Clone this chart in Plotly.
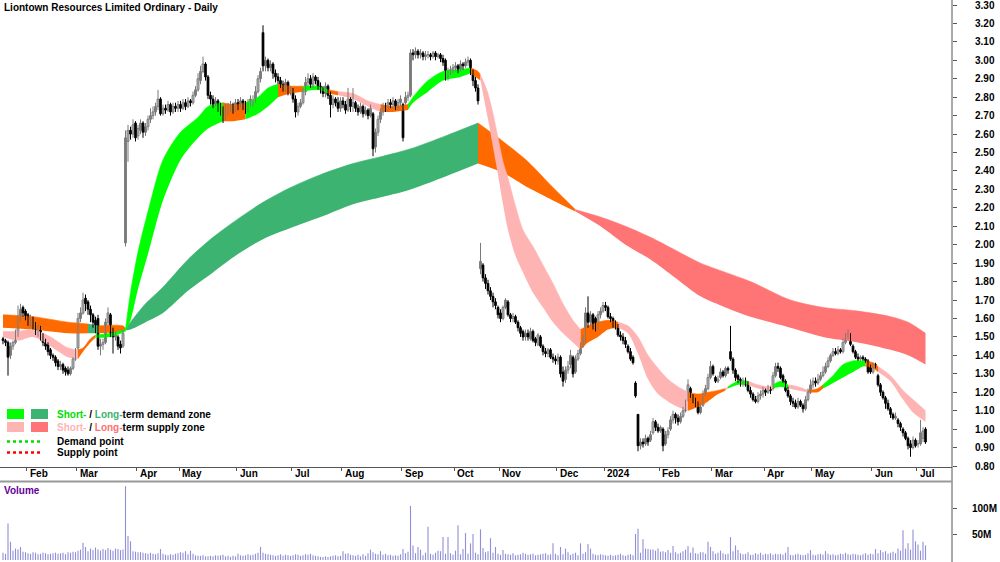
import numpy as np
import plotly.graph_objects as go

title_text = "Liontown Resources Limited Ordinary - Daily"

# ---- x axis: trading days per month (first entry = partial Jan 2023) ----
month_labels = ["Feb", "Mar", "Apr", "May", "Jun", "Jul", "Aug", "Sep", "Oct",
                "Nov", "Dec", "2024", "Feb", "Mar", "Apr", "May", "Jun", "Jul"]
month_bar_counts = [10, 20, 24, 17, 23, 22, 20, 24, 21, 18, 23, 19, 22, 21, 21, 19, 24, 18, 4]

# ---- daily OHLC (cents) ----
open_c = [
149,148,147,140,145,147,152,160,166,164, 162,157,160,157,152,154,151,148,146,143,
140,139,137,134,135,133,132,130,133,138, 144,160,163,171,169,165,162,159,160,145,
146,147,158,162,153,150,150,146,145,201, 256,262,260,266,259,262,266,261,264,268,
270,272,275,279,271,274,273,276,272,275, 274,276,274,277,275,278,277,281,284,289,
294,298,291,281,279,276,278,275,273,270, 272,274,276,273,277,275,278,276,274,277,
277,278,283,290,315,297,300,296,298,293, 291,289,287,285,288,283,284,279,272,275,
277,283,288,290,287,291,289,286,284,282, 286,281,276,279,277,274,278,276,273,279,
275,277,274,272,275,271,273,270,271,253, 261,268,272,275,274,277,276,278,275,277,
276,277,280,281,304,303,305,303,304,302, 303,303,302,304,302,303,301,300,291,294,
295,296,297,295,298,297,299,300,294,289, 285,187,189,182,179,175,172,169,166,163,
160,166,169,162,160,161,158,155,153,150, 152,149,153,149,146,150,145,142,141,143,
139,138,137,139,131,127,132,135,139,131, 138,141,145,148,163,158,162,160,155,162,
164,167,166,161,160,157,155,151,150,148, 145,142,139,125,108,91,93,92,95,94,
98,104,101,99,100,92,97,100,105,108, 106,104,107,110,117,122,118,116,114,109,
113,119,122,128,134,128,126,128,131,129, 133,142,138,132,129,127,125,126,125,121,
119,116,115,118,119,121,120,122,122,129, 134,133,129,126,121,118,115,114,112,115,
113,111,116,120,124,126,125,127,129,131, 134,137,140,142,141,143,142,147,150,151,
145,142,139,138,139,138,137,134,131,135, 129,124,120,117,114,111,108,106,105,103,
100,98,95,92,90,94,92,92,95,100]
high_c = [
150,149,148,147,148,154,167,168,167,165, 163,162,161,158,157,156,152,149,147,144,
141,140,138,137,136,134,134,134,139,144, 163,166,174,173,170,167,163,161,162,149,
149,160,166,163,155,153,151,148,154,262, 265,264,268,267,265,268,267,266,270,274,
275,277,284,280,276,276,278,277,277,277, 278,278,279,279,280,279,283,286,293,297,
302,299,292,283,281,280,279,277,275,276, 277,278,277,279,279,280,279,278,279,281,
281,286,292,296,319,302,301,300,299,295, 293,291,289,290,289,286,285,281,277,279,
285,291,293,292,293,292,291,288,286,288, 287,283,281,280,280,280,280,278,285,280,
285,278,276,277,276,275,274,276,272,263, 270,274,277,277,279,279,280,279,279,281,
277,283,283,306,306,307,306,306,305,305, 305,304,305,305,304,304,303,301,296,297,
298,299,298,300,299,301,302,301,295,291, 287,201,190,184,181,177,174,171,167,165,
167,171,170,163,163,162,159,156,154,154, 154,155,154,150,152,151,146,144,144,144,
141,140,141,140,134,134,137,143,140,140, 143,147,151,166,172,164,163,161,164,166,
169,169,167,163,161,159,157,153,152,150, 146,144,140,126,108,95,95,97,96,99,
106,105,103,102,101,99,101,107,110,109, 108,109,112,116,127,123,119,117,115,114,
121,124,130,137,135,129,129,133,132,134, 134,156,139,133,130,128,128,128,126,123,
120,118,120,121,123,122,124,123,131,136, 136,134,130,127,123,119,117,116,117,116,
114,118,122,127,128,128,130,131,134,136, 139,141,144,144,145,144,149,152,154,152,
146,143,141,140,140,139,138,135,136,136, 130,125,121,118,116,112,109,109,106,104,
101,99,96,94,96,95,94,105,101,101]
low_c = [
146,145,129,138,143,146,150,158,161,159, 156,155,154,151,150,148,145,143,140,138,
137,134,132,132,130,129,129,129,132,137, 143,158,162,164,162,158,155,152,143,140,
143,146,156,150,141,148,143,141,144,199, 245,257,258,256,257,260,258,259,262,266,
268,270,273,270,270,271,272,270,271,272, 272,272,273,273,274,275,276,280,283,287,
293,289,279,276,274,275,272,270,266,268, 270,272,271,272,273,274,273,271,272,275,
275,277,282,288,294,294,294,294,290,288, 287,285,283,283,281,281,277,269,270,274,
276,281,286,285,285,287,284,282,280,280, 279,269,274,275,272,272,274,271,272,272,
272,272,270,271,269,270,268,269,248,250, 259,266,270,272,272,274,274,273,273,275,
256,276,278,280,300,301,301,301,300,300, 301,300,301,300,301,299,297,289,289,292,
293,294,293,294,295,296,297,292,286,283, 276,184,180,176,173,170,166,165,160,158,
159,165,161,158,158,157,153,150,148,148, 148,148,147,145,145,144,140,139,139,138,
136,135,135,128,123,125,130,133,128,130, 137,140,144,147,155,156,154,153,154,160,
163,164,160,158,155,154,150,148,146,144, 141,137,135,117,88,89,90,91,91,93,
97,99,98,98,88,91,95,99,103,103, 102,103,106,109,115,117,114,112,108,108,
112,118,121,127,129,125,125,127,128,128, 130,137,130,126,125,123,123,123,120,117,
115,114,114,116,117,118,119,119,121,128, 131,127,125,120,117,113,112,111,111,112,
109,110,115,119,122,123,124,126,128,130, 133,136,139,140,140,141,141,146,149,145,
141,138,137,137,137,136,130,130,130,133, 123,118,116,111,110,106,105,105,101,99,
96,94,89,85,89,90,90,91,93,92]
close_c = [
148,147,139,145,147,152,160,165,163,161, 158,160,156,153,155,150,147,145,142,140,
139,136,134,135,132,131,130,133,138,142, 160,163,170,168,165,162,158,156,145,146,
147,158,163,152,150,151,145,144,152,258, 262,260,265,258,263,266,261,264,268,270,
272,275,279,271,274,273,276,272,275,274, 276,274,277,275,278,277,281,284,290,294,
298,291,281,279,276,278,275,273,270,272, 274,276,273,277,275,278,276,274,277,279,
278,283,290,294,297,300,296,298,293,291, 289,287,285,288,283,284,279,272,275,277,
283,288,290,287,291,289,286,284,282,286, 281,276,279,277,274,278,276,273,279,275,
277,274,272,275,271,273,270,274,252,261, 268,272,275,274,277,276,278,275,277,279,
258,280,281,304,303,305,303,304,302,303, 303,302,304,302,303,301,299,291,294,295,
296,297,295,298,297,299,300,294,289,285, 278,191,182,179,175,172,169,167,162,160,
166,170,162,160,161,158,155,152,150,152, 150,153,148,147,151,145,142,141,143,139,
138,137,139,130,126,132,134,140,130,138, 141,145,149,163,158,162,156,155,162,164,
167,166,161,160,157,155,151,150,148,146, 142,138,136,118,91,93,92,95,93,97,
104,101,99,101,91,97,99,105,108,106, 104,107,110,114,124,118,116,113,109,112,
119,122,128,134,130,126,127,131,129,133, 132,138,132,128,127,125,126,124,121,119,
116,115,118,119,121,120,122,121,129,134, 133,128,126,121,118,115,114,112,115,113,
111,116,120,124,126,125,127,129,131,134, 137,140,142,141,143,142,147,150,152,146,
142,139,138,139,138,137,131,131,135,134, 124,120,117,114,111,108,106,107,103,101,
98,95,91,90,94,91,92,98,99,93]

# ---- daily volume (millions) ----
volume_m = [
14,12,70,35,18,22,20,25,16,15, 13,12,15,14,11,12,14,13,11,12,
13,14,12,13,14,11,15,14,16,15, 18,20,33,25,17,22,19,24,20,18,
21,19,23,20,18,22,21,19,20,142, 46,36,17,16,15,15,14,13,12,14,
12,11,13,21,12,10,9,11,10,12, 13,15,14,17,11,18,12,9,8,8,
9,7,7,8,7,9,8,9,10,7, 8,6,8,7,12,9,8,9,11,9,
10,12,14,25,14,12,11,10,9,8, 9,11,8,10,9,8,9,11,10,8,
9,11,10,12,9,8,7,6,6,7, 6,7,8,9,7,8,17,12,13,10,
9,8,10,7,11,8,13,20,15,12, 11,17,10,12,9,10,8,9,8,11,
21,13,16,104,28,13,25,20,9,14, 64,12,10,14,18,17,44,12,44,13,
10,18,67,11,21,52,12,32,50,14, 11,59,23,15,17,42,14,25,12,10,
19,12,11,10,13,9,10,11,14,12, 10,11,12,9,10,11,12,13,10,11,
32,12,9,25,11,22,15,10,12,14, 9,32,12,15,31,22,12,10,9,11,
10,9,8,10,8,9,10,12,9,8, 10,11,9,50,60,14,40,22,21,20,
20,18,22,16,17,15,19,14,27,15, 12,14,17,20,27,14,24,13,12,15,
15,12,35,25,17,12,14,18,13,11, 12,44,17,28,19,13,11,12,15,10,
10,13,11,14,10,12,11,13,10,12, 11,12,10,14,25,10,9,11,12,10,
9,10,13,19,10,9,11,12,10,17, 12,10,11,9,10,12,11,14,11,10,
12,11,10,9,11,13,10,12,11,21, 13,19,15,17,12,14,16,13,22,18,
57,22,32,20,58,36,30,18,35,28]

# ---- short-term zone (band edges read at sample bars) ----
st_idx = [0,6,12,19,26,30,32,35,37,43,49,51,54,58,64,71,78,82,88,92,97,102,106,110,115,
          120,126,130,134,140,146,151,156,162,164,170,176,183,187,190,191,192,194,196,198,
          200,202,205,208,212,216,220,224,228,231,234,238,242,246,250,254,258,262,266,270,
          274,278,282,286,289,290,294,298,302,306,308,311,314,318,322,326,328,332,336,340,
          344,345,348,350,355,360,364,369]
st_hi = [1.53,1.53,1.54,1.50,1.44,1.43,1.44,1.49,1.51,1.52,1.54,1.74,1.96,2.18,2.46,2.61,2.69,2.75,2.77,2.76,2.77,2.80,2.85,2.87,2.86,
         2.86,2.86,2.84,2.83,2.82,2.78,2.76,2.75,2.76,2.80,2.89,2.94,2.95,2.96,2.94,2.92,2.89,2.82,2.71,2.58,
         2.45,2.36,2.21,2.08,1.99,1.89,1.79,1.68,1.59,1.54,1.56,1.58,1.59,1.58,1.56,1.50,1.40,1.33,1.27,1.23,
         1.20,1.19,1.20,1.21,1.22,1.23,1.26,1.26,1.24,1.23,1.24,1.26,1.24,1.23,1.21,1.22,1.24,1.29,1.35,1.37,
         1.37,1.37,1.36,1.34,1.29,1.21,1.16,1.10]
st_lo = [1.50,1.48,1.50,1.45,1.39,1.38,1.42,1.47,1.495,1.50,1.53,1.59,1.76,1.95,2.24,2.46,2.58,2.63,2.67,2.67,2.68,2.71,2.75,2.80,2.82,
         2.83,2.84,2.82,2.81,2.79,2.75,2.72,2.72,2.73,2.77,2.83,2.89,2.91,2.93,2.90,2.89,2.82,2.68,2.53,2.38,
         2.22,2.08,1.94,1.85,1.74,1.66,1.58,1.52,1.47,1.43,1.47,1.50,1.54,1.55,1.52,1.41,1.27,1.19,1.15,1.12,
         1.10,1.12,1.15,1.19,1.21,1.22,1.24,1.24,1.22,1.21,1.22,1.23,1.22,1.21,1.20,1.20,1.22,1.25,1.28,1.31,
         1.34,1.34,1.33,1.31,1.26,1.16,1.09,1.04]
st_zones = [(0, 30, "supply"), (30, 37, "mixed"), (37, 49, "demand"), (49, 88, "demand"),
            (88, 97, "mixed"), (97, 110, "demand"), (110, 120, "mixed"), (120, 130, "demand"),
            (130, 134, "mixed"), (134, 151, "supply"), (151, 162, "mixed"), (162, 187, "demand"),
            (187, 191, "mixed"), (191, 231, "supply"), (231, 246, "mixed"), (246, 274, "supply"),
            (274, 289, "mixed"), (289, 290, "supply"), (290, 298, "demand"), (298, 308, "supply"),
            (308, 314, "demand"), (314, 322, "supply"), (322, 328, "mixed"), (328, 345, "demand"),
            (345, 350, "mixed"), (350, 369, "supply")]

# ---- long-term zone ----
lt_idx = [0,12,26,34,38,48,49,51,57,64,74,84,94,104,115,127,140,152,163,177,190,
          200,210,220,229,239,249,259,269,279,289,299,315,328,342,355,362,369]
lt_hi = [1.62,1.61,1.58,1.57,1.56,1.56,1.545,1.58,1.68,1.77,1.92,2.04,2.14,2.23,2.31,2.38,2.44,2.48,2.52,2.59,2.66,
         2.56,2.45,2.31,2.19,2.15,2.10,2.04,1.97,1.90,1.85,1.80,1.70,1.66,1.64,1.61,1.58,1.52]
lt_lo = [1.55,1.54,1.52,1.52,1.52,1.53,1.535,1.54,1.58,1.63,1.75,1.85,1.95,2.03,2.09,2.15,2.22,2.26,2.30,2.37,2.44,
         2.39,2.31,2.24,2.18,2.10,2.00,1.92,1.82,1.72,1.66,1.61,1.55,1.50,1.47,1.43,1.40,1.35]
lt_zones = [(0, 34, "mixed"), (34, 38, "demand"), (38, 49, "mixed"), (49, 190, "demand"),
            (190, 229, "mixed"), (229, 369, "supply")]

price_ticks = [0.80, 0.90, 1.00, 1.10, 1.20, 1.30, 1.40, 1.50, 1.60, 1.70, 1.80, 1.90, 2.00,
               2.10, 2.20, 2.30, 2.40, 2.50, 2.60, 2.70, 2.80, 2.90, 3.00, 3.10, 3.20, 3.30]
volume_ticks_m = [50, 100]
volume_tick_text = ["50M", "100M"]

# ---- styles ----
FONT = "Liberation Sans, Arial, sans-serif"
ORANGE = "#FF6A00"
ST_COL = {"demand": "#00FF00", "supply": "#FFB4B4", "mixed": ORANGE}
LT_COL = {"demand": "#3CB371", "supply": "#FF7474", "mixed": ORANGE}
UP_LINE = "#7a7a7a"
W, H = 1000, 562
AX_X = 0.952          # right axis position (paper)
LABEL_X = 973 / W     # tick label left edge (paper)


def py(p):
    return 1 - p / H


n = len(close_c)
idx = np.arange(n)
o = np.array(open_c) / 100
h = np.array(high_c) / 100
l = np.array(low_c) / 100
c = np.array(close_c) / 100
vol = np.array(volume_m) * 1e6

fig = go.Figure()


def add_band(bidx, hi, lo, zones, cols):
    bidx = np.array(bidx)
    hi = np.array(hi)
    lo = np.array(lo)
    for a, b, kind in zones:
        m = (bidx >= a) & (bidx <= b)
        fig.add_trace(go.Scatter(x=bidx[m], y=lo[m], mode="lines",
                                 line=dict(width=0, shape="spline", smoothing=0.8),
                                 hoverinfo="skip", showlegend=False))
        fig.add_trace(go.Scatter(x=bidx[m], y=hi[m], mode="lines",
                                 line=dict(width=0.6, color=cols[kind], shape="spline", smoothing=0.8),
                                 fill="tonexty", fillcolor=cols[kind],
                                 hoverinfo="skip", showlegend=False))


add_band(lt_idx, lt_hi, lt_lo, lt_zones, LT_COL)
add_band(st_idx, st_hi, st_lo, st_zones, ST_COL)

# ---- candles: wicks + bodies ----
up = c >= o


def wick_xy(mask):
    xs, ys = [], []
    for i in np.where(mask)[0]:
        xs += [i, i, None]
        ys += [l[i], h[i], None]
    return xs, ys


for mask, col in [(up, UP_LINE), (~up, "black")]:
    xs, ys = wick_xy(mask)
    fig.add_trace(go.Scatter(x=xs, y=ys, mode="lines", line=dict(color=col, width=1),
                             hoverinfo="skip", showlegend=False))

body_lo = np.minimum(o, c)
body_h = np.abs(c - o)
fig.add_trace(go.Bar(x=idx[up], y=body_h[up], base=body_lo[up], width=0.75,
                     marker=dict(color="white", line=dict(color=UP_LINE, width=1)),
                     hoverinfo="skip", showlegend=False, xaxis="x", yaxis="y"))
fig.add_trace(go.Bar(x=idx[~up], y=body_h[~up], base=body_lo[~up], width=0.75,
                     marker=dict(color="black", line=dict(color="black", width=0.8)),
                     hoverinfo="skip", showlegend=False, xaxis="x", yaxis="y"))

fig.add_trace(go.Bar(x=idx, y=vol, marker=dict(color="#9090DA", line=dict(width=0)),
                     width=0.45, xaxis="x2", yaxis="y2", hoverinfo="skip", showlegend=False))

# month boundaries
starts = np.cumsum(month_bar_counts)[:-1]
month_ticks = starts - 0.5

x_range = [-1.2, 379.6]
fig.update_layout(
    width=W, height=H, margin=dict(l=0, r=0, t=0, b=0, pad=0),
    paper_bgcolor="white", plot_bgcolor="white", showlegend=False, barmode="overlay",
    font=dict(family=FONT, size=10, color="black"),
    xaxis=dict(domain=[0, AX_X], range=x_range, anchor="y", showgrid=False, zeroline=False,
               showline=True, linecolor="#555", linewidth=1, ticks="outside", ticklen=3,
               tickcolor="#555", tickvals=month_ticks, showticklabels=False,
               fixedrange=True, automargin=False),
    yaxis=dict(domain=[py(467), 1], range=[0.7946, 3.3271], side="right", anchor="x",
               showgrid=False, zeroline=False, showline=False, ticks="outside", ticklen=4,
               tickcolor="#555", tickvals=price_ticks, showticklabels=False, automargin=False),
    xaxis2=dict(domain=[0, AX_X], range=x_range, anchor="y2", showgrid=False, zeroline=False,
                showline=False, showticklabels=False, ticks="", automargin=False),
    yaxis2=dict(domain=[0, py(482)], range=[-3.85e6, 150e6], side="right", anchor="x2",
                showgrid=False, zeroline=False, showline=False, ticks="outside", ticklen=4,
                tickcolor="#555", tickvals=[v * 1e6 for v in volume_ticks_m],
                showticklabels=False, automargin=False),
)

shapes = [
    dict(type="line", xref="paper", yref="paper", x0=AX_X, x1=AX_X, y0=0, y1=1,
         line=dict(color="#555", width=1)),
    dict(type="line", xref="paper", yref="paper", x0=0, x1=AX_X, y0=py(481.5), y1=py(481.5),
         line=dict(color="#999", width=2)),
]
# legend swatches
for (x0, x1), (y0, y1), col in [((7, 24), (409, 419), ST_COL["demand"]),
                                 ((31, 48), (409, 419), LT_COL["demand"]),
                                 ((7, 24), (422, 432), ST_COL["supply"]),
                                 ((31, 48), (422, 432), LT_COL["supply"])]:
    shapes.append(dict(type="rect", xref="paper", yref="paper", x0=x0 / W, x1=x1 / W,
                       y0=py(y1), y1=py(y0), fillcolor=col, line=dict(width=0)))
shapes.append(dict(type="line", xref="paper", yref="paper", x0=7 / W, x1=43 / W, y0=py(441.5), y1=py(441.5),
                   line=dict(color="#00DD00", width=2.5, dash="dot")))
shapes.append(dict(type="line", xref="paper", yref="paper", x0=7 / W, x1=43 / W, y0=py(452.5), y1=py(452.5),
                   line=dict(color="#FF0000", width=2.5, dash="dot")))
fig.update_layout(shapes=shapes)

ann = []
bold = dict(family=FONT, size=10, color="black", weight="bold")
ann.append(dict(text=title_text, x=2 / W, y=py(7), xref="paper", yref="paper", xanchor="left",
                yanchor="middle", showarrow=False, font=bold))
for lab, t in zip(month_labels, month_ticks):
    ann.append(dict(text=lab, x=t + 0.4, y=py(474), xref="x", yref="paper", xanchor="left",
                    yanchor="middle", showarrow=False, font=bold))
for v in price_ticks:
    ann.append(dict(text=f"{v:.2f}", x=LABEL_X, y=v, xref="paper", yref="y", xanchor="left",
                    yanchor="middle", showarrow=False, font=bold))
for v, t in zip(volume_ticks_m, volume_tick_text):
    ann.append(dict(text=t, x=970 / W, y=v * 1e6, xref="paper", yref="y2", xanchor="left",
                    yanchor="middle", showarrow=False, font=bold))
ann.append(dict(text="Volume", x=2 / W, y=py(490.5), xref="paper", yref="paper", xanchor="left",
                yanchor="middle", showarrow=False, font=dict(family=FONT, size=10, color="#660099", weight="bold")))
legend_rows = [
    (414, "<span style='color:#00DD00'>Short-</span> / <span style='color:#3CB371'>Long-</span>term demand zone"),
    (427, "<span style='color:#FFB4B4'>Short-</span> / <span style='color:#FF6F6F'>Long-</span>term supply zone"),
    (441.5, "Demand point"),
    (452.5, "Supply point"),
]
for yy, txt in legend_rows:
    ann.append(dict(text=txt, x=55 / W, y=py(yy), xref="paper", yref="paper", xanchor="left",
                    yanchor="middle", showarrow=False, font=bold))
fig.update_layout(annotations=ann)

fig.write_html("out.html", config=dict(staticPlot=True),
               post_script="document.documentElement.style.margin='0';document.body.style.margin='0';"
                           "document.body.style.padding='0';document.documentElement.style.overflow='hidden';")
